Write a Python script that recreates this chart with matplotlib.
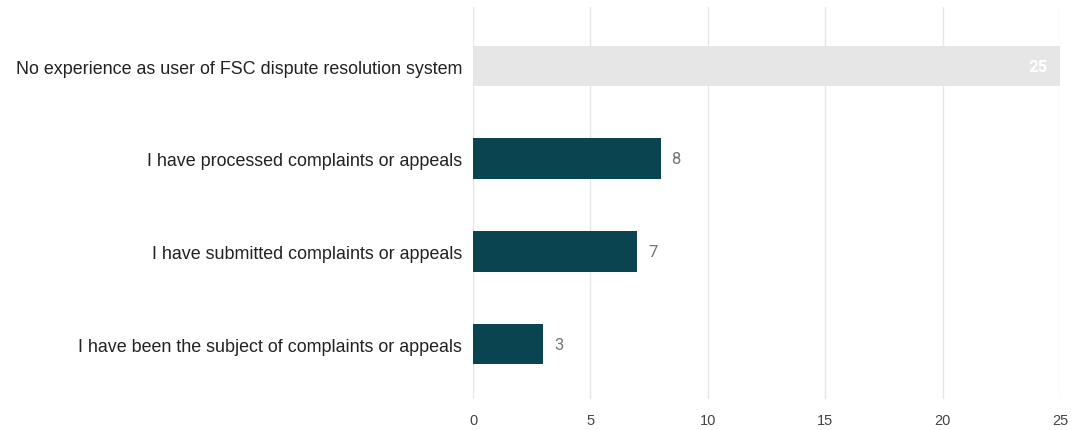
import matplotlib.pyplot as plt

# Datos del gráfico
categorias = [
    'No experience as user of FSC dispute resolution system',
    'I have processed complaints or appeals',
    'I have submitted complaints or appeals',
    'I have been the subject of complaints or appeals',
]
valores = [25, 8, 7, 3]
colores = ['#e6e6e6', '#0a4450', '#0a4450', '#0a4450']
colores_etiqueta = ['white', '#757575', '#757575', '#757575']

plt.rcParams['font.family'] = ['Liberation Sans', 'DejaVu Sans']

fig = plt.figure(figsize=(10.74, 4.31), dpi=100)
ax = fig.add_axes([473 / 1074, 31 / 431, 587 / 1074, 392 / 431])

pos = range(len(categorias))
ax.barh(pos, valores, height=0.44, color=colores, zorder=2)

for i, (v, c) in enumerate(zip(valores, colores_etiqueta)):
    if v >= 20:
        ax.text(v - 0.55, i, str(v), ha='right', va='center', color=c,
                fontsize=12, fontweight='bold', family=['Roboto', 'DejaVu Sans'])
    else:
        ax.text(v + 0.45, i, str(v), ha='left', va='center', color=c,
                fontsize=12, family=['Roboto', 'DejaVu Sans'])

ax.set_yticks(list(pos))
ax.set_yticklabels(categorias, fontsize=12.9, color='#222222')
ax.set_ylim(3.593, -0.637)
ax.set_xlim(0, 25)
ax.set_xticks([0, 5, 10, 15, 20, 25])
ax.tick_params(axis='x', length=0, pad=10, labelsize=10.5, labelcolor='#444444')
ax.tick_params(axis='y', length=0, pad=8)
ax.grid(axis='x', color='#e6e6e6', linewidth=1, zorder=0)
for s in ax.spines.values():
    s.set_visible(False)

plt.savefig('out.png', dpi=100)
